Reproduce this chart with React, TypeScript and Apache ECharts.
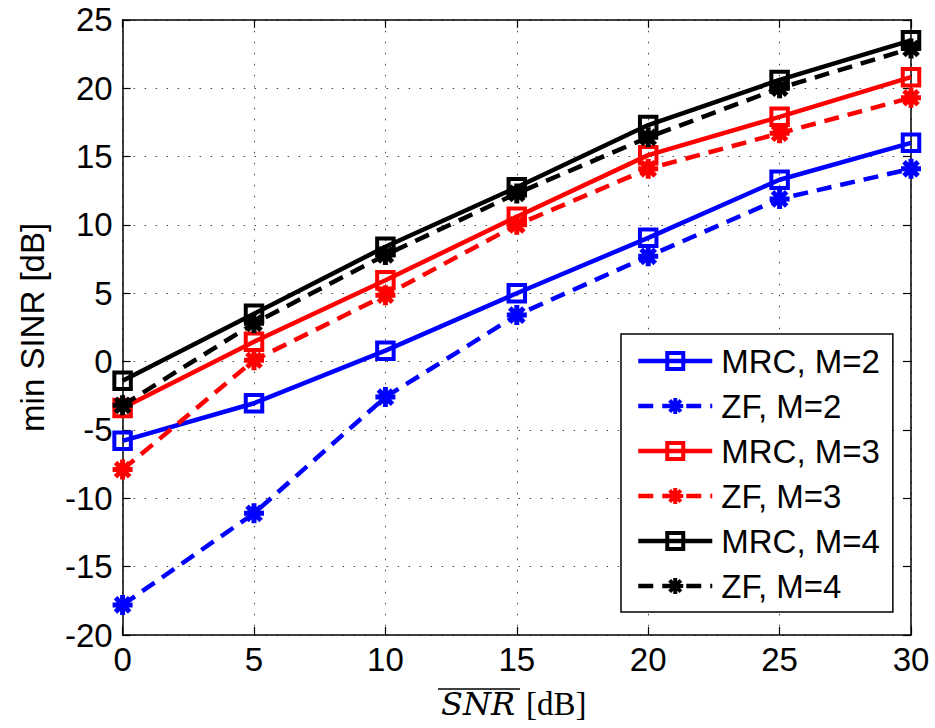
import React, { useEffect, useRef } from "react";
import * as echarts from "echarts";

const snr = [0, 5, 10, 15, 20, 25, 30];
const mrcM2 = [-5.8, -3.05, 0.8, 5.0, 9.05, 13.3, 16.0];
const zfM2 = [-17.8, -11.1, -2.6, 3.4, 7.7, 11.9, 14.1];
const mrcM3 = [-3.4, 1.45, 5.95, 10.6, 15.1, 17.9, 20.8];
const zfM3 = [-7.9, 0.1, 4.85, 10.0, 14.1, 16.7, 19.3];
const mrcM4 = [-1.4, 3.5, 8.4, 12.75, 17.3, 20.6, 23.5];
const zfM4 = [-3.2, 2.8, 7.8, 12.3, 16.4, 20.0, 22.9];

const seriesNames = ["MRC, M=2", "ZF, M=2", "MRC, M=3", "ZF, M=3", "MRC, M=4", "ZF, M=4"];
const seriesData = [mrcM2, zfM2, mrcM3, zfM3, mrcM4, zfM4];
const seriesColors = ["#0000ff", "#0000ff", "#ff0000", "#ff0000", "#000000", "#000000"];
const seriesIsZF = [false, true, false, true, false, true];

const yTitle = "min SINR [dB]";
const xTitleVar = "SNR";
const xTitleUnit = "[dB]";

const FONT = '"Liberation Sans", Arial, sans-serif';

const ASTERISK =
  "path://M0 7.5L20 7.5L20 12.5L0 12.5Z M12.5 0L12.5 20L7.5 20L7.5 0Z " +
  "M4.7 1.17L18.83 15.3L15.3 18.83L1.17 4.7Z " +
  "M1.17 15.3L15.3 1.17L18.83 4.7L4.7 18.83Z";

export default function App() {
  const ref = useRef<HTMLDivElement>(null);

  useEffect(() => {
    if (!ref.current) return;
    const chart = echarts.init(ref.current, null, { renderer: "svg" });

    const series = seriesData.map((vals, i) => {
      const col = seriesColors[i];
      const zf = seriesIsZF[i];
      return {
        name: seriesNames[i],
        type: "line",
        data: snr.map((x, j) => [x, vals[j]]),
        clip: false,
        color: col,
        symbol: zf ? ASTERISK : "rect",
        symbolSize: zf ? 20 : 16.5,
        lineStyle: {
          color: col,
          width: 4.5,
          type: zf ? [15, 9] : "solid",
          cap: "butt",
        },
        itemStyle: zf
          ? { color: col, borderWidth: 0 }
          : { color: "rgba(0,0,0,0)", borderColor: col, borderWidth: 4 },
        emphasis: { disabled: true },
        z: 2 + i,
      };
    });

    const commonAxisLine = { show: true, onZero: false, lineStyle: { color: "#000", width: 1.5 } };
    const commonTick = { show: true, inside: true, length: 8, lineStyle: { color: "#000", width: 1.2 } };
    const gridLine = { show: true, lineStyle: { color: "#444", width: 1, type: [1.5, 9.5] } };

    chart.setOption({
      animation: false,
      grid: { left: 122.6, right: 24, top: 19.8, bottom: 93, containLabel: false },
      xAxis: [
        {
          type: "value",
          min: 0,
          max: 30,
          interval: 5,
          axisLine: commonAxisLine,
          axisTick: commonTick,
          axisLabel: { color: "#000", fontSize: 33, fontFamily: FONT, margin: 8 },
          splitLine: gridLine,
        },
        {
          type: "value",
          position: "top",
          min: 0,
          max: 30,
          interval: 5,
          axisLine: commonAxisLine,
          axisTick: commonTick,
          axisLabel: { show: false },
          splitLine: { show: false },
        },
      ],
      yAxis: [
        {
          type: "value",
          min: -20,
          max: 25,
          interval: 5,
          name: yTitle,
          nameLocation: "middle",
          nameGap: 74,
          nameTextStyle: { color: "#000", fontSize: 33, fontFamily: FONT },
          axisLine: commonAxisLine,
          axisTick: commonTick,
          axisLabel: { color: "#000", fontSize: 33, fontFamily: FONT, margin: 10 },
          splitLine: gridLine,
        },
        {
          type: "value",
          position: "right",
          min: -20,
          max: 25,
          interval: 5,
          axisLine: commonAxisLine,
          axisTick: commonTick,
          axisLabel: { show: false },
          splitLine: { show: false },
        },
      ],
      legend: {
        orient: "vertical",
        left: 621,
        top: 334,
        padding: [9, 13, 8, 15],
        itemGap: 9,
        itemWidth: 74,
        itemHeight: 20,
        backgroundColor: "#fff",
        borderColor: "#000",
        borderWidth: 1.5,
        borderRadius: 0,
        selectedMode: false,
        data: seriesNames,
        lineStyle: { width: 4.5 },
        itemStyle: { borderWidth: "inherit" },
        textStyle: {
          color: "#000",
          fontSize: 33,
          fontFamily: FONT,
          lineHeight: 36,
          padding: [0, 0, 0, 4],
        },
      },
      graphic: [
        {
          type: "text",
          x: 441,
          y: 704,
          style: {
            text: xTitleVar,
            font: 'italic 32px "DejaVu Serif", "Liberation Serif", serif',
            fill: "#000",
            align: "left",
            verticalAlign: "middle",
          },
        },
        {
          type: "line",
          shape: { x1: 438, y1: 689, x2: 520, y2: 689 },
          style: { stroke: "#000", lineWidth: 1.5 },
        },
        {
          type: "text",
          x: 526,
          y: 704,
          style: {
            text: xTitleUnit,
            font: '33px "Liberation Serif", "Times New Roman", serif',
            fill: "#000",
            align: "left",
            verticalAlign: "middle",
          },
        },
      ],
      series,
    });

    return () => {
      chart.dispose();
    };
  }, []);

  return (
    <div
      ref={ref}
      style={{ position: "fixed", left: 0, top: 0, width: 935, height: 728, background: "#fff" }}
    />
  );
}
